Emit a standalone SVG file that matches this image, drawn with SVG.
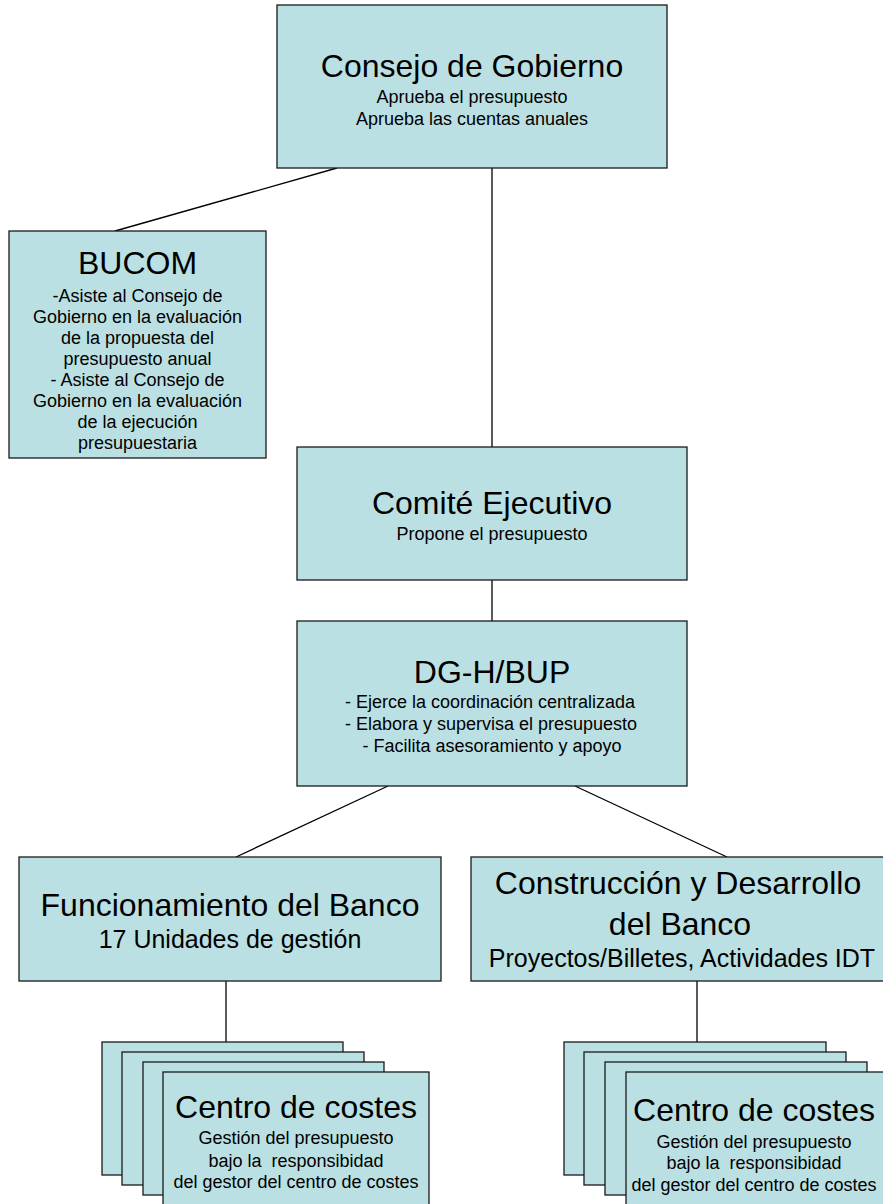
<svg xmlns="http://www.w3.org/2000/svg" width="883" height="1204" viewBox="0 0 883 1204">
<style>
  .box { fill: #BBE0E3; stroke: #1a1a1a; stroke-width: 1.3; }
  .conn line { stroke: #000; stroke-width: 1.3; }
  text { font-family: "Liberation Sans", Arial, sans-serif; fill: #000; text-anchor: middle; }
  .t { font-size: 32px; }
  .s { font-size: 18px; }
  .m { font-size: 25px; }
</style>
<rect width="883" height="1204" fill="#fff"/>
<g id="connectors" class="conn">
  <line x1="337" y1="168" x2="115" y2="231"/>
  <line x1="492" y1="168" x2="492" y2="447"/>
  <line x1="492" y1="580" x2="492" y2="621"/>
  <line x1="388" y1="786" x2="236" y2="857"/>
  <line x1="575" y1="786" x2="727" y2="857"/>
  <line x1="226" y1="981" x2="226" y2="1042"/>
  <line x1="697" y1="981" x2="697" y2="1042"/>
</g>
<g id="consejo">
  <rect class="box" x="277" y="5" width="390" height="163"/>
  <text class="t" x="472" y="77">Consejo de Gobierno</text>
  <text class="s" x="472" y="102.7">Aprueba el presupuesto</text>
  <text class="s" x="472" y="125">Aprueba las cuentas anuales</text>
</g>
<g id="bucom">
  <rect class="box" x="9" y="231" width="257" height="227"/>
  <text class="t" x="137.5" y="274.3">BUCOM</text>
  <text class="s" x="137.5" y="302.3">-Asiste al Consejo de</text>
  <text class="s" x="137.5" y="323.3">Gobierno en la evaluación</text>
  <text class="s" x="137.5" y="344.3">de la propuesta del</text>
  <text class="s" x="137.5" y="365.3">presupuesto anual</text>
  <text class="s" x="137.5" y="386.3">- Asiste al Consejo de</text>
  <text class="s" x="137.5" y="407.3">Gobierno en la evaluación</text>
  <text class="s" x="137.5" y="428.3">de la ejecución</text>
  <text class="s" x="137.5" y="449.3">presupuestaria</text>
</g>
<g id="comite">
  <rect class="box" x="297" y="447" width="390" height="133"/>
  <text class="t" x="492" y="514">Comité Ejecutivo</text>
  <text class="s" x="492" y="540">Propone el presupuesto</text>
</g>
<g id="dghbup">
  <rect class="box" x="297" y="621" width="390" height="165"/>
  <text class="t" x="492" y="682.7">DG-H/BUP</text>
  <text class="s" x="490" y="708.3">- Ejerce la coordinación centralizada</text>
  <text class="s" x="491" y="730">- Elabora y supervisa el presupuesto</text>
  <text class="s" x="492" y="751.7">- Facilita asesoramiento y apoyo</text>
</g>
<g id="funcionamiento">
  <rect class="box" x="19" y="857" width="422" height="124"/>
  <text class="t" x="230" y="916">Funcionamiento del Banco</text>
  <text class="m" x="230" y="947.7">17 Unidades de gestión</text>
</g>
<g id="construccion">
  <rect class="box" x="471" y="857" width="422" height="124"/>
  <text class="t" x="678" y="894">Construcción y Desarrollo</text>
  <text class="t" x="680" y="935">del Banco</text>
  <text class="m" x="682" y="966.7">Proyectos/Billetes, Actividades IDT</text>
</g>
<g id="centros-izq">
  <rect class="box" x="102" y="1042" width="241" height="133"/>
  <rect class="box" x="122" y="1052" width="242" height="133"/>
  <rect class="box" x="143" y="1062" width="241" height="133"/>
  <rect class="box" x="163" y="1072" width="266" height="140"/>
  <text class="t" x="296" y="1117.5">Centro de costes</text>
  <text class="s" x="296" y="1144">Gestión del presupuesto</text>
  <text class="s" x="296" y="1166.5" xml:space="preserve">bajo la  responsibidad</text>
  <text class="s" x="296" y="1188.3">del gestor del centro de costes</text>
</g>
<g id="centros-der">
  <rect class="box" x="564" y="1042" width="262" height="133"/>
  <rect class="box" x="584" y="1052" width="262" height="133"/>
  <rect class="box" x="605" y="1062" width="262" height="133"/>
  <rect class="box" x="626" y="1072" width="280" height="140"/>
  <text class="t" x="754" y="1121">Centro de costes</text>
  <text class="s" x="754" y="1147.5">Gestión del presupuesto</text>
  <text class="s" x="754" y="1169.3" xml:space="preserve">bajo la  responsibidad</text>
  <text class="s" x="754" y="1191">del gestor del centro de costes</text>
</g>
</svg>
